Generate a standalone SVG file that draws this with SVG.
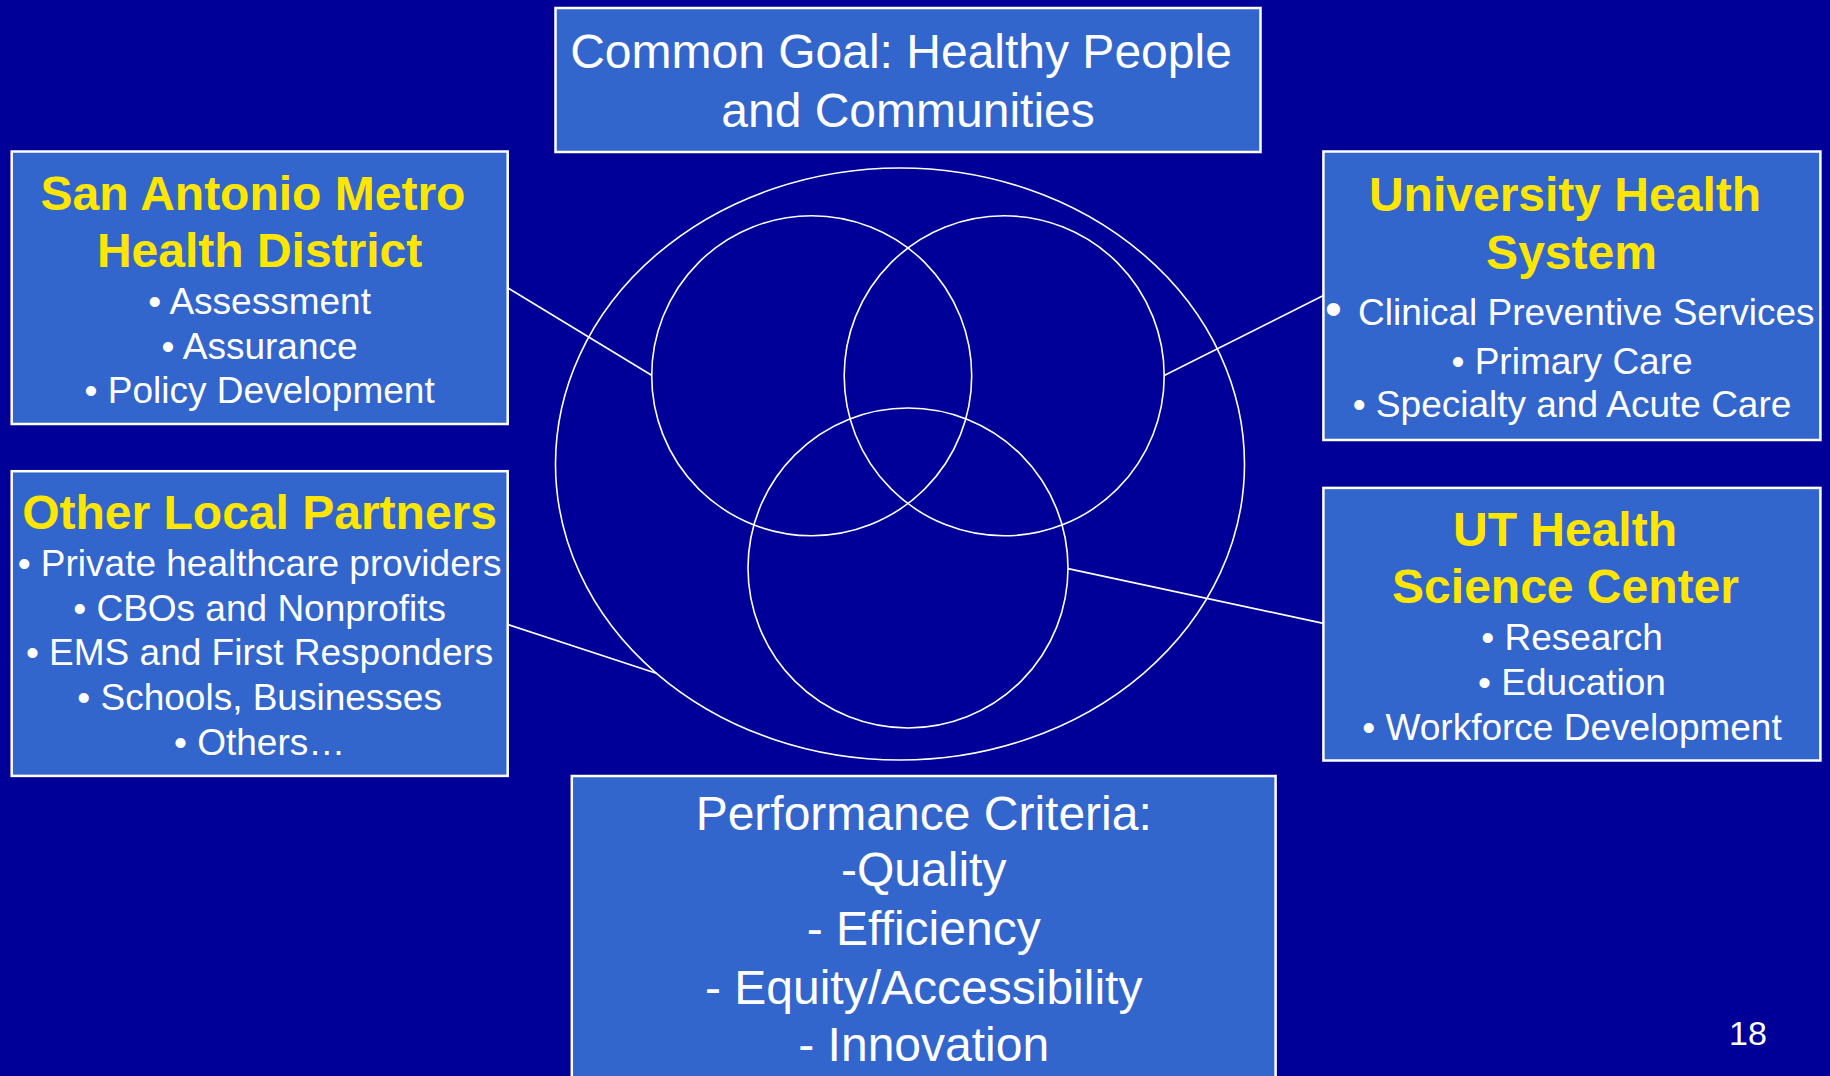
<svg xmlns="http://www.w3.org/2000/svg" width="1830" height="1076" viewBox="0 0 1830 1076">
  <style>
    .box { fill: #3366CC; stroke: #FFFFFF; stroke-width: 2.5; }
    .ring { fill: none; stroke: #FFFFFF; stroke-width: 1.6; }
    .conn { stroke: #FFFFFF; stroke-width: 1.6; fill: none; }
    text { font-family: "Liberation Sans", Arial, sans-serif; text-anchor: middle; }
    .title { font-size: 48px; font-weight: bold; fill: #FFE600; }
    .big { font-size: 48px; fill: #FFFFFF; }
    .item { font-size: 37px; fill: #FFFFFF; }
  </style>
  <rect x="0" y="0" width="1830" height="1076" fill="#000099"/>

  <g id="venn">
    <ellipse class="ring" cx="900" cy="464" rx="344.5" ry="296"/>
    <circle class="ring" cx="811.7" cy="375.7" r="160"/>
    <circle class="ring" cx="1004.2" cy="375.8" r="160"/>
    <circle class="ring" cx="908" cy="568" r="160"/>
  </g>

  <g id="connectors">
    <line class="conn" x1="508" y1="288" x2="652" y2="375.5"/>
    <line class="conn" x1="508" y1="624.6" x2="657" y2="673.4"/>
    <line class="conn" x1="1323.4" y1="295.5" x2="1164.2" y2="375.5"/>
    <line class="conn" x1="1068" y1="568.6" x2="1323.4" y2="623.4"/>
  </g>

  <g id="common-goal">
    <rect class="box" x="555.5" y="8" width="705" height="144"/>
    <text class="big" x="901" y="68">Common Goal: Healthy People</text>
    <text class="big" x="908" y="127">and Communities</text>
  </g>

  <g id="san-antonio-metro">
    <rect class="box" x="11.7" y="151.5" width="496" height="272.5"/>
    <text class="title" x="253" y="209.5">San Antonio Metro</text>
    <text class="title" x="259.6" y="267">Health District</text>
    <text class="item" x="259.6" y="314">• Assessment</text>
    <text class="item" x="259.6" y="358.5">• Assurance</text>
    <text class="item" x="259.6" y="403">• Policy Development</text>
  </g>

  <g id="other-local-partners">
    <rect class="box" x="11.7" y="471.2" width="496" height="304.7"/>
    <text class="title" x="259.6" y="529">Other Local Partners</text>
    <text class="item" x="259.6" y="576">• Private healthcare providers</text>
    <text class="item" x="259.6" y="620.5">• CBOs and Nonprofits</text>
    <text class="item" x="259.6" y="665">• EMS and First Responders</text>
    <text class="item" x="259.6" y="710">• Schools, Businesses</text>
    <text class="item" x="259.6" y="754.5">• Others…</text>
  </g>

  <g id="university-health-system">
    <rect class="box" x="1323.4" y="151.5" width="497" height="288.5"/>
    <text class="title" x="1565" y="211">University Health</text>
    <text class="title" x="1571.5" y="269">System</text>
    <text class="item" x="1325" y="325" style="text-anchor:start"><tspan style="font-size:48px">•</tspan></text>
    <text class="item" x="1358" y="325" style="text-anchor:start">Clinical Preventive Services</text>
    <text class="item" x="1572" y="373.6">• Primary Care</text>
    <text class="item" x="1572" y="416.7">• Specialty and Acute Care</text>
  </g>

  <g id="ut-health-science-center">
    <rect class="box" x="1323.4" y="487.9" width="497" height="272.6"/>
    <text class="title" x="1565" y="546">UT Health</text>
    <text class="title" x="1565.5" y="603">Science Center</text>
    <text class="item" x="1572" y="650">• Research</text>
    <text class="item" x="1572" y="695">• Education</text>
    <text class="item" x="1572" y="739.5">• Workforce Development</text>
  </g>

  <g id="performance-criteria">
    <rect class="box" x="571.8" y="776" width="703.8" height="320"/>
    <text class="big" x="923.7" y="830">Performance Criteria:</text>
    <text class="big" x="923.7" y="886">-Quality</text>
    <text class="big" x="923.7" y="945">- Efficiency</text>
    <text class="big" x="923.7" y="1004">- Equity/Accessibility</text>
    <text class="big" x="923.7" y="1061">- Innovation</text>
  </g>

  <g id="page-number">
    <text x="1729" y="1044.5" style="text-anchor:start; font-size:34px; fill:#FFFFFF">18</text>
  </g>
</svg>
